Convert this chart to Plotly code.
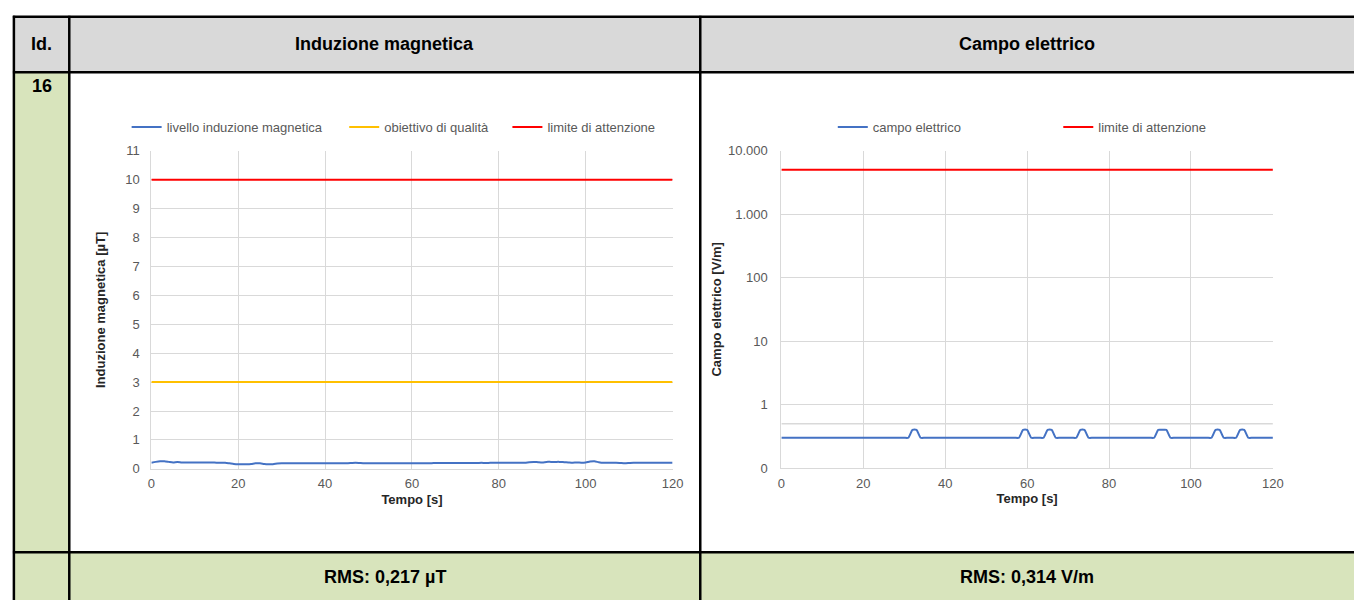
import plotly.graph_objects as go

W, H = 1365, 608

# ---------------- data ----------------
tempo_s = list(range(0, 121))

induzione_uT = [
    0.21, 0.24, 0.26, 0.26, 0.24, 0.22, 0.24, 0.22, 0.22, 0.22,
    0.22, 0.22, 0.22, 0.22, 0.22, 0.21, 0.21, 0.21, 0.19, 0.17,
    0.16, 0.16, 0.16, 0.17, 0.19, 0.19, 0.17, 0.16, 0.16, 0.18,
    0.19, 0.19, 0.19, 0.19, 0.19, 0.19, 0.19, 0.19, 0.19, 0.19,
    0.19, 0.19, 0.19, 0.19, 0.19, 0.19, 0.20, 0.21, 0.20, 0.19,
    0.19, 0.19, 0.19, 0.19, 0.19, 0.19, 0.19, 0.19, 0.19, 0.19,
    0.19, 0.19, 0.19, 0.19, 0.19, 0.20, 0.20, 0.20, 0.20, 0.20,
    0.20, 0.20, 0.20, 0.20, 0.20, 0.20, 0.21, 0.20, 0.21, 0.21,
    0.21, 0.21, 0.21, 0.21, 0.21, 0.21, 0.21, 0.23, 0.24, 0.23,
    0.22, 0.24, 0.24, 0.24, 0.24, 0.23, 0.22, 0.21, 0.22, 0.21,
    0.22, 0.25, 0.26, 0.23, 0.21, 0.21, 0.21, 0.21, 0.20, 0.19,
    0.20, 0.21, 0.21, 0.21, 0.21, 0.21, 0.21, 0.21, 0.21, 0.21,
    0.21,
]

campo_Vm = [
    0.3, 0.3, 0.3, 0.3, 0.3, 0.3, 0.3, 0.3, 0.3, 0.3,
    0.3, 0.3, 0.3, 0.3, 0.3, 0.3, 0.3, 0.3, 0.3, 0.3,
    0.3, 0.3, 0.3, 0.3, 0.3, 0.3, 0.3, 0.3, 0.3, 0.3,
    0.3, 0.3, 0.4, 0.4, 0.3, 0.3, 0.3, 0.3, 0.3, 0.3,
    0.3, 0.3, 0.3, 0.3, 0.3, 0.3, 0.3, 0.3, 0.3, 0.3,
    0.3, 0.3, 0.3, 0.3, 0.3, 0.3, 0.3, 0.3, 0.3, 0.4,
    0.4, 0.3, 0.3, 0.3, 0.3, 0.4, 0.4, 0.3, 0.3, 0.3,
    0.3, 0.3, 0.3, 0.4, 0.4, 0.3, 0.3, 0.3, 0.3, 0.3,
    0.3, 0.3, 0.3, 0.3, 0.3, 0.3, 0.3, 0.3, 0.3, 0.3,
    0.3, 0.3, 0.4, 0.4, 0.4, 0.3, 0.3, 0.3, 0.3, 0.3,
    0.3, 0.3, 0.3, 0.3, 0.3, 0.3, 0.4, 0.4, 0.3, 0.3,
    0.3, 0.3, 0.4, 0.4, 0.3, 0.3, 0.3, 0.3, 0.3, 0.3,
    0.3,
]

obiettivo_qualita_uT = 3
limite_attenzione_uT = 10
limite_attenzione_Vm = 5000
soglia_strumento_Vm = 0.5

tempo_range = [0, 120]
tempo_ticks = [0, 20, 40, 60, 80, 100, 120]
induzione_ticks = [0, 1, 2, 3, 4, 5, 6, 7, 8, 9, 10, 11]
campo_tickvals = [0.1, 1, 10, 100, 1000, 10000]
campo_ticktext = ["0", "1", "10", "100", "1.000", "10.000"]

header_id = "Id."
header_b = "Induzione magnetica"
header_e = "Campo elettrico"
row_id = "16"
rms_b = "RMS: 0,217 µT"
rms_e = "RMS: 0,314 V/m"

# ---------------- styling ----------------
BLUE = "#4472c4"
ORANGE = "#ffc000"
RED = "#ff0000"
GRID = "#d9d9d9"
TXT = "#595959"
HEAD_BG = "#d9d9d9"
GREEN_BG = "#d8e4bc"
FONT = "Liberation Sans, Arial, sans-serif"


def px(x):
    return x / W


def py(y):
    return 1 - y / H


fig = go.Figure()

# left chart traces
fig.add_trace(go.Scatter(
    x=tempo_s, y=induzione_uT, mode="lines", name="livello induzione magnetica",
    line=dict(color=BLUE, width=2, shape="spline", smoothing=0.6),
    xaxis="x", yaxis="y", legend="legend"))
fig.add_trace(go.Scatter(
    x=tempo_range, y=[obiettivo_qualita_uT] * 2, mode="lines", name="obiettivo di qualità",
    line=dict(color=ORANGE, width=2), xaxis="x", yaxis="y", legend="legend2"))
fig.add_trace(go.Scatter(
    x=tempo_range, y=[limite_attenzione_uT] * 2, mode="lines", name="limite di attenzione",
    line=dict(color=RED, width=2), xaxis="x", yaxis="y", legend="legend3"))

# right chart traces
fig.add_trace(go.Scatter(
    x=tempo_range, y=[soglia_strumento_Vm] * 2, mode="lines", showlegend=False,
    hoverinfo="skip", line=dict(color=GRID, width=1.5), xaxis="x2", yaxis="y2"))
fig.add_trace(go.Scatter(
    x=tempo_s, y=campo_Vm, mode="lines", name="campo elettrico",
    line=dict(color=BLUE, width=2, shape="spline", smoothing=0.5),
    xaxis="x2", yaxis="y2", legend="legend4"))
fig.add_trace(go.Scatter(
    x=tempo_range, y=[limite_attenzione_Vm] * 2, mode="lines", name="limite di attenzione",
    line=dict(color=RED, width=2), xaxis="x2", yaxis="y2", legend="legend5"))

# ---------------- table shapes ----------------
shapes = []
shapes.append(dict(type="rect", xref="paper", yref="paper", x0=px(10), x1=1, y0=py(67), y1=py(10),
                   fillcolor=HEAD_BG, line_width=0, layer="below"))
shapes.append(dict(type="rect", xref="paper", yref="paper", x0=px(10), x1=px(66), y0=0, y1=py(67),
                   fillcolor=GREEN_BG, line_width=0, layer="below"))
shapes.append(dict(type="rect", xref="paper", yref="paper", x0=px(66), x1=1, y0=0, y1=py(559),
                   fillcolor=GREEN_BG, line_width=0, layer="below"))
border = dict(color="black", width=2.5)
for yy in (10, 67, 559):
    shapes.append(dict(type="line", xref="paper", yref="paper", x0=px(9), x1=1, y0=py(yy), y1=py(yy), line=border))
for xx in (10, 66, 704):
    shapes.append(dict(type="line", xref="paper", yref="paper", x0=px(xx), x1=px(xx), y0=0, y1=py(9), line=border))

# ---------------- annotations ----------------
ann = []


def txt(x, y, s, size, bold=True, color="black"):
    ann.append(dict(xref="paper", yref="paper", x=px(x), y=py(y), text=f"<b>{s}</b>" if bold else s,
                    showarrow=False, xanchor="center", yanchor="middle",
                    font=dict(family=FONT, size=size, color=color)))


txt(38, 38, header_id, 18)
txt(385, 38, header_b, 18)
txt(1034, 38, header_e, 18)
txt(38, 81, row_id, 18)
txt(385, 584, rms_b, 18)
txt(1034, 584, rms_e, 18)

# ---------------- axes ----------------
tick_font = dict(family=FONT, size=13, color=TXT)
title_font = dict(family=FONT, size=13, color="#262626")

axis_common = dict(showgrid=True, gridcolor=GRID, gridwidth=1, zeroline=False,
                   showline=True, linecolor=GRID, linewidth=1, ticks="", tickfont=tick_font)

fig.update_layout(
    width=W, height=H,
    margin=dict(l=0, r=0, t=0, b=0),
    paper_bgcolor="white", plot_bgcolor="white",
    font=dict(family=FONT, size=13, color=TXT),
    shapes=shapes, annotations=ann,
    xaxis=dict(domain=[px(149), px(676)], range=tempo_range, tickvals=tempo_ticks,
               anchor="y", ticklabelstandoff=3,
               title=dict(text="<b>Tempo [s]</b>", font=title_font, standoff=4), **axis_common),
    yaxis=dict(domain=[py(473.5), py(147.5)], range=[0, 11], tickvals=induzione_ticks,
               anchor="x", ticklabelstandoff=8,
               title=dict(text="<b>Induzione magnetica [µT]</b>", font=title_font, standoff=16), **axis_common),
    xaxis2=dict(domain=[px(786), px(1283)], range=tempo_range, tickvals=tempo_ticks,
                anchor="y2", ticklabelstandoff=3,
                title=dict(text="<b>Tempo [s]</b>", font=title_font, standoff=4), **axis_common),
    yaxis2=dict(domain=[py(472.7), py(147.3)], type="log", range=[-1, 4], tickvals=campo_tickvals,
                ticktext=campo_ticktext, anchor="x2", ticklabelstandoff=10,
                title=dict(text="<b>Campo elettrico [V/m]</b>", font=title_font, standoff=3), **axis_common),
)

leg_common = dict(orientation="h", xanchor="left", yanchor="middle", bgcolor="rgba(0,0,0,0)",
                  borderwidth=0, itemwidth=30, font=dict(family=FONT, size=13, color=TXT),
                  itemclick=False, itemdoubleclick=False)
fig.update_layout(
    legend=dict(x=px(124), y=py(123), **leg_common),
    legend2=dict(x=px(344), y=py(123), **leg_common),
    legend3=dict(x=px(509), y=py(123), **leg_common),
    legend4=dict(x=px(838), y=py(123), **leg_common),
    legend5=dict(x=px(1066), y=py(123), **leg_common),
)

fig.write_html(
    "out.html",
    config={"displayModeBar": False},
    post_script="document.body.style.margin='0px';document.body.style.padding='0px';"
                "document.body.style.overflow='hidden';document.documentElement.style.overflow='hidden';",
)
